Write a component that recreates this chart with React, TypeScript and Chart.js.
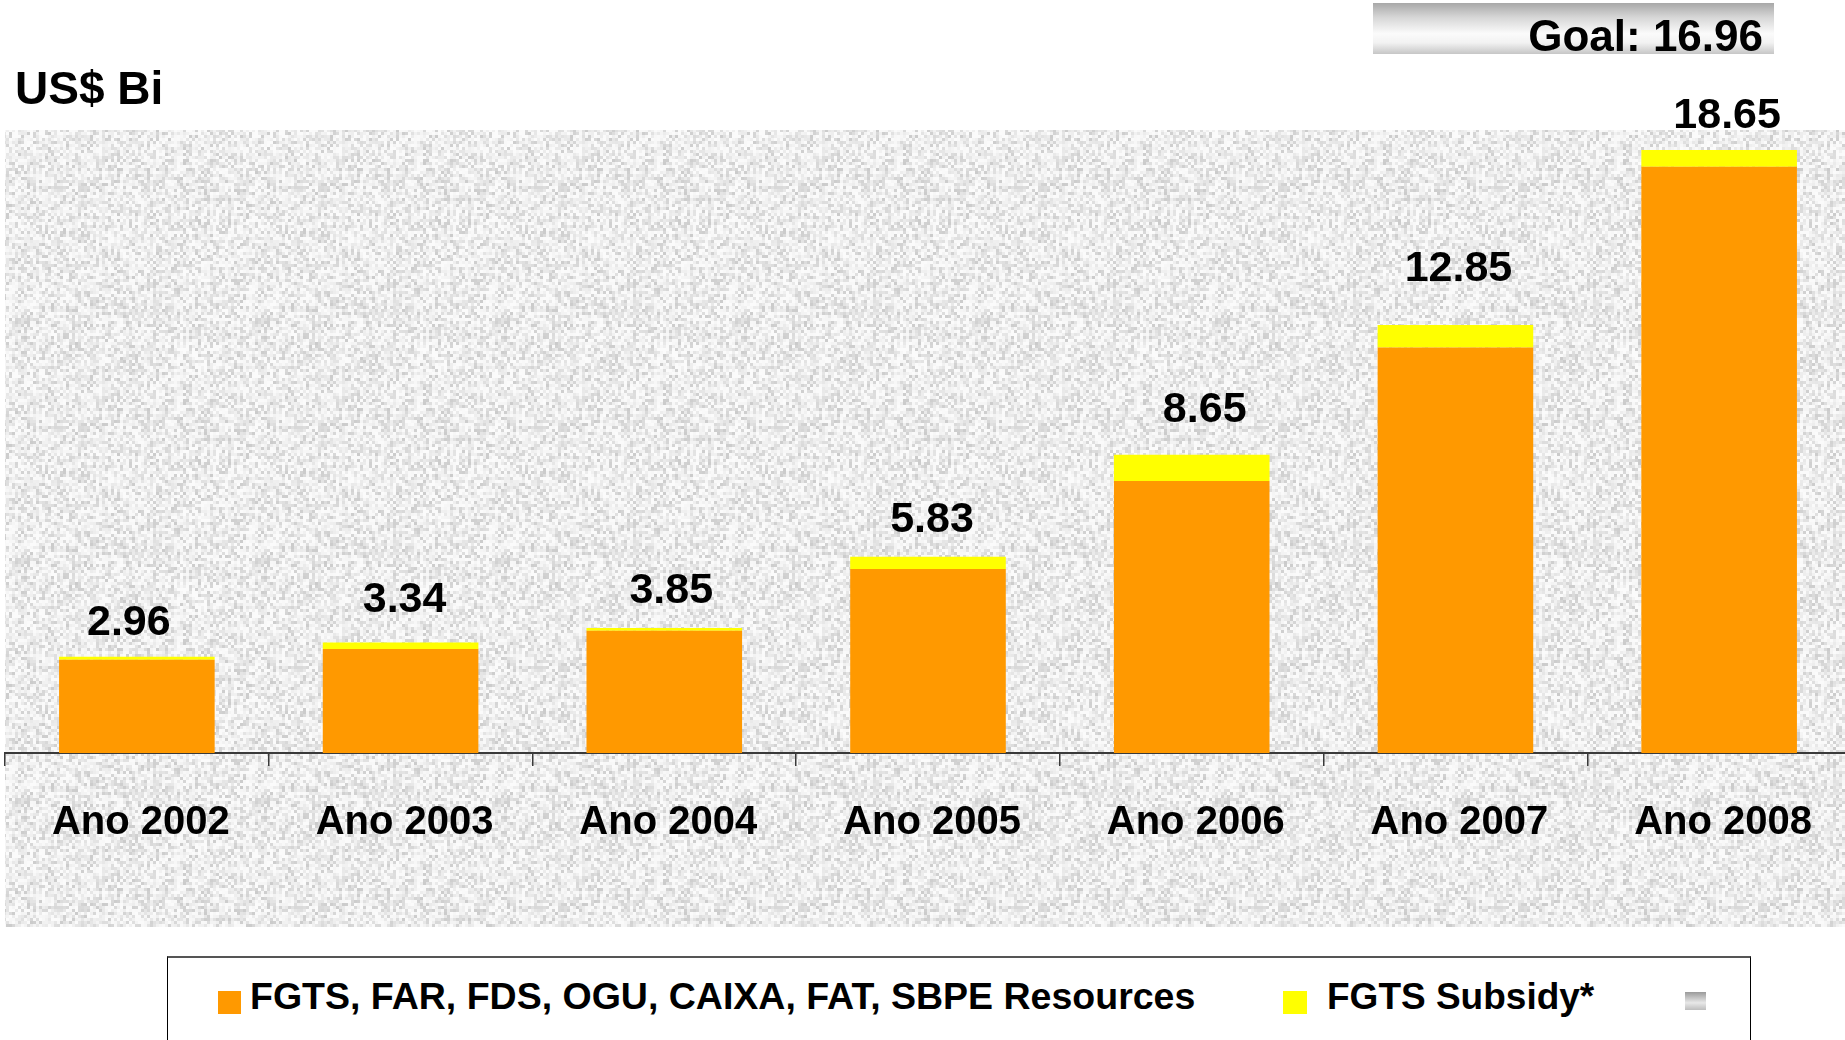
import React, { useEffect, useRef } from 'react';
import { Chart, registerables } from 'chart.js';

Chart.register(...registerables);

// ---- data ----
const categories = ['Ano 2002', 'Ano 2003', 'Ano 2004', 'Ano 2005', 'Ano 2006', 'Ano 2007', 'Ano 2008'];
const resourcesValues = [2.89, 3.22, 3.79, 5.7, 8.43, 12.56, 18.16];
const subsidyValues = [0.09, 0.2, 0.08, 0.38, 0.81, 0.7, 0.52];
const totalLabels = ['2.96', '3.34', '3.85', '5.83', '8.65', '12.85', '18.65'];
const seriesNames = ['FGTS, FAR, FDS, OGU, CAIXA, FAT, SBPE Resources', 'FGTS Subsidy*'];
const unitLabel = 'US$ Bi';
const goalLabel = 'Goal: 16.96';
const yMax = 19.3;

// ---- styling ----
const FONT = '"Liberation Sans", Arial, Helvetica, sans-serif';
const ORANGE = '#FF9900';
const YELLOW = '#FFFF00';
const labelGap = [22, 31, 25, 25, 33, 44, 22];
const labelDx = [-8, 4, 7, 4, 13, 3, 8];

function hash(i: number, j: number): number {
  let n = Math.imul(i, 374761393) + Math.imul(j, 668265263);
  n = Math.imul(n ^ (n >>> 13), 1274126177);
  n = n ^ (n >>> 16);
  return (n >>> 0) / 4294967296;
}

function makeTexture(): HTMLCanvasElement {
  const c = document.createElement('canvas');
  const cell = 3;
  const n = 80;
  c.width = cell * n;
  c.height = cell * n;
  const g = c.getContext('2d')!;
  for (let i = 0; i < n; i++) {
    for (let j = 0; j < n; j++) {
      const r = hash(i + 11, j + 7);
      const v = Math.round(251 - 48 * r * r);
      g.fillStyle = `rgb(${v},${v},${v})`;
      g.fillRect(i * cell, j * cell, cell, cell);
    }
  }
  return c;
}

export default function App() {
  const ref = useRef<HTMLCanvasElement>(null);

  useEffect(() => {
    const canvas = ref.current!;
    const tex = makeTexture();

    const bgPlugin = {
      id: 'texturedBg',
      beforeDraw(chart: any) {
        const { ctx, chartArea } = chart;
        ctx.save();
        ctx.fillStyle = '#ffffff';
        ctx.fillRect(0, 0, chart.width, chart.height);
        const pat = ctx.createPattern(tex, 'repeat');
        ctx.fillStyle = pat;
        ctx.fillRect(chartArea.left, chartArea.top, chart.width - chartArea.left, chart.height - chartArea.top);
        ctx.restore();
      },
    };

    const totalsPlugin = {
      id: 'totals',
      afterDatasetsDraw(chart: any) {
        const ctx = chart.ctx;
        const meta = chart.getDatasetMeta(1);
        ctx.save();
        ctx.font = `bold 43px ${FONT}`;
        ctx.fillStyle = '#000';
        ctx.textAlign = 'center';
        ctx.textBaseline = 'alphabetic';
        meta.data.forEach((bar: any, i: number) => {
          ctx.fillText(totalLabels[i], bar.x + labelDx[i], bar.y - labelGap[i]);
        });
        ctx.restore();
      },
    };

    const chart = new Chart(canvas, {
      type: 'bar',
      data: {
        labels: categories,
        datasets: [
          {
            label: seriesNames[0],
            data: resourcesValues,
            backgroundColor: ORANGE,
            borderWidth: 0,
            barPercentage: 0.59,
            categoryPercentage: 1,
          },
          {
            label: seriesNames[1],
            data: subsidyValues,
            backgroundColor: YELLOW,
            borderWidth: 0,
            barPercentage: 0.59,
            categoryPercentage: 1,
          },
        ],
      },
      options: {
        responsive: false,
        animation: false,
        devicePixelRatio: 1,
        layout: { padding: { top: 130, left: 5, right: 0, bottom: 0 } },
        plugins: {
          legend: { display: false },
          tooltip: { enabled: false },
          title: { display: false },
        },
        scales: {
          x: {
            stacked: true,
            offset: true,
            border: { display: true, color: '#3a3a3a', width: 2 },
            grid: {
              display: true,
              drawOnChartArea: false,
              drawTicks: true,
              tickLength: 13,
              color: '#3a3a3a',
              lineWidth: 1.5,
              offset: true,
            },
            ticks: {
              color: '#000',
              font: { family: FONT, size: 40, weight: 'bold' },
              padding: 33,
              labelOffset: 4,
              maxRotation: 0,
              autoSkip: false,
            },
            afterFit(scale: any) {
              scale.height = 927 - 753;
            },
          },
          y: {
            stacked: true,
            display: false,
            min: 0,
            max: yMax,
          },
        },
      },
      plugins: [bgPlugin, totalsPlugin],
    });

    return () => chart.destroy();
  }, []);

  return (
    <div
      style={{
        position: 'absolute',
        left: 0,
        top: 0,
        width: 1845,
        height: 1040,
        overflow: 'hidden',
        background: '#fff',
        fontFamily: FONT,
      }}
    >
      <canvas ref={ref} width={1851} height={927} style={{ position: 'absolute', left: 0, top: 0, width: 1851, height: 927 }} />

      <div
        style={{
          position: 'absolute',
          left: 15,
          top: 65,
          fontSize: 46,
          lineHeight: '46px',
          fontWeight: 'bold',
          color: '#000',
          whiteSpace: 'nowrap',
        }}
      >
        {unitLabel}
      </div>

      <div
        style={{
          position: 'absolute',
          left: 1373,
          top: 3,
          width: 401,
          height: 51,
          background:
            'linear-gradient(180deg, #a8a8a8 0%, #d6d6d6 28%, #fbfbfb 60%, #f2f2f2 78%, #c6c6c6 100%)',
        }}
      />
      <div
        style={{
          position: 'absolute',
          left: 1373,
          top: 14,
          width: 390,
          fontSize: 44,
          lineHeight: '44px',
          fontWeight: 'bold',
          textAlign: 'right',
          color: '#000',
          whiteSpace: 'nowrap',
        }}
      >
        {goalLabel}
      </div>

      {/* legend */}
      <div
        style={{
          position: 'absolute',
          left: 167,
          top: 956,
          width: 1584,
          height: 120,
          borderLeft: '1px solid #000',
          borderRight: '1px solid #000',
          borderTop: '2px solid #555',
          boxSizing: 'border-box',
          background: '#fff',
        }}
      />
      <div style={{ position: 'absolute', left: 218, top: 991, width: 23, height: 23, background: ORANGE }} />
      <div
        style={{
          position: 'absolute',
          left: 250,
          top: 978,
          fontSize: 37.5,
          lineHeight: '37px',
          fontWeight: 'bold',
          color: '#000',
          whiteSpace: 'nowrap',
        }}
      >
        {seriesNames[0]}
      </div>
      <div style={{ position: 'absolute', left: 1283, top: 991, width: 24, height: 23, background: YELLOW }} />
      <div
        style={{
          position: 'absolute',
          left: 1327,
          top: 978,
          fontSize: 37,
          lineHeight: '37px',
          fontWeight: 'bold',
          color: '#000',
          whiteSpace: 'nowrap',
        }}
      >
        {seriesNames[1]}
      </div>
      <div
        style={{
          position: 'absolute',
          left: 1685,
          top: 992,
          width: 21,
          height: 18,
          background: 'linear-gradient(180deg, #9a9a9a 0%, #e8e8e8 60%, #bdbdbd 100%)',
        }}
      />
    </div>
  );
}
